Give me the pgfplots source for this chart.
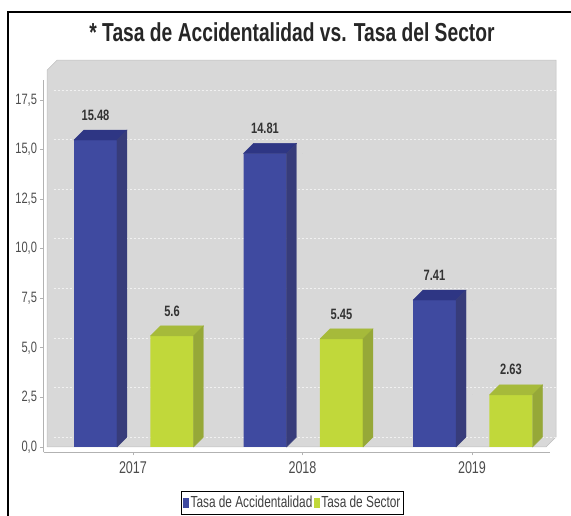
\documentclass[border=0pt]{standalone}
\usepackage{fontspec}
\setmainfont[FakeStretch=0.74]{Liberation Sans}
\usepackage{pgfplots}
\usepackage{pgfplotstable}
\pgfplotsset{compat=1.18}
\definecolor{bfront}{RGB}{63,74,160}
\definecolor{btop}{RGB}{46,54,132}
\definecolor{bside}{RGB}{55,60,122}
\definecolor{yfront}{RGB}{193,216,58}
\definecolor{ytop}{RGB}{166,186,58}
\definecolor{yside}{RGB}{150,168,56}
\definecolor{wall}{RGB}{216,216,216}

\pgfplotstableread{
x y lab
0 15.48 15.48
1 14.81 14.81
2 7.41 7.41
}\tasaacc
\pgfplotstableread{
x y lab
0 5.6 5.6
1 5.45 5.45
2 2.63 2.63
}\tasasec

\newcommand\bdepth{10}
\newcommand\barfaces[4]{%
  \begin{scope}[x=1pt,y=1pt]
  \pgfmathsetmacro\hh{\yv*19.83}%
  \fill[#3] ({#1-#2},0) -- ({#1+#2},0) -- ({#1+#2+\bdepth},\bdepth) -- ({#1-#2+\bdepth},\bdepth) -- cycle;
  \fill[#4] ({#1+#2},0) -- ({#1+#2+\bdepth},\bdepth) -- ({#1+#2+\bdepth},{\bdepth-\hh}) -- ({#1+#2},{-\hh}) -- cycle;
  \end{scope}}

\begin{document}
\begin{tikzpicture}
\draw[black, line width=1.6pt] (8pt,-10pt) rectangle (590pt,504pt);
\node[font=\fontsize{26}{30}\selectfont\bfseries, text=black!85] at (292pt,484pt) {* Tasa de Accidentalidad vs. Tasa del Sector};
\begin{axis}[
  set layers,
  at={(43.5pt,63.65pt)}, anchor=south west,
  x=169.5pt, y=19.83pt,
  xmin=-0.528, xmax=2.46, ymin=-0.27, ymax=18.5,
  clip=false,
  axis lines=left,
  axis line style={-, draw=gray!60, line width=0.9pt},
  tick align=outside, major tick length=3pt,
  tick style={gray!60, line width=0.8pt},
  xtick={0,1,2}, xticklabels={2017,2018,2019},
  ytick={0,2.5,5,7.5,10,12.5,15,17.5},
  y tick label style={/pgf/number format/fixed, /pgf/number format/fixed zerofill,
    /pgf/number format/precision=1, /pgf/number format/use comma,
    /pgf/number format/assume math mode=true,
    font=\fontsize{15}{17}\selectfont, text=black!70},
  x tick label style={font=\fontsize{17}{19}\selectfont, text=black!70, yshift=-3pt},
  ymajorgrids,
  major grid style={white, opacity=0.65, dash pattern=on 2pt off 2pt, line width=0.6pt, xshift=10pt, yshift=10pt},
  legend columns=2,
  legend style={at={(axis description cs:0.4916,-0.1038)}, anchor=north,
    draw=black, line width=0.8pt, font=\fontsize{16}{18}\selectfont, text=black!75,
    inner xsep=1.5pt, inner ysep=3pt, nodes={inner xsep=1.5pt},
    /tikz/every even column/.append style={column sep=0pt}},
  legend image code/.code={\fill[#1,draw=none] (0pt,-5pt) rectangle (6pt,5pt);},
  nodes near coords style={font=\fontsize{15}{17}\selectfont\bfseries, text=black!80, anchor=center, yshift=25pt},
]
\begin{pgfonlayer}{axis background}
\fill[wall, draw=black!25, line width=0.5pt] (axis cs:-0.507,0) -- (axis cs:-0.507,19.0) -- ([shift={(10pt,10pt)}]axis cs:-0.507,19.0) -- ([shift={(10pt,10pt)}]axis cs:2.437,19.0) -- ([shift={(10pt,10pt)}]axis cs:2.437,0) -- (axis cs:2.437,0) -- cycle;
\end{pgfonlayer}

\addplot[ybar, bar width=0.254, bar shift=-0.221, fill=bfront, draw=none,
  nodes near coords, point meta=explicit symbolic,
  every node near coord/.append style={xshift=-37.5pt}]
  table[x=x, y=y, meta=lab] {\tasaacc};
\addlegendentry{Tasa de Accidentalidad}
\addplot[ybar, bar width=0.254, bar shift=0.230, fill=yfront, draw=none,
  nodes near coords, point meta=explicit symbolic,
  every node near coord/.append style={xshift=39pt}]
  table[x=x, y=y, meta=lab] {\tasasec};
\addlegendentry{Tasa de Sector}

\addplot[forget plot, only marks, mark=*, mark size=0pt, mark options={draw=none,fill=none},
  scatter, visualization depends on={rawy \as \yv},
  scatter/@pre marker code/.code={\barfaces{-37.5}{21.5}{btop}{bside}},
  scatter/@post marker code/.code={}]
  table[x=x, y=y] {\tasaacc};
\addplot[forget plot, only marks, mark=*, mark size=0pt, mark options={draw=none,fill=none},
  scatter, visualization depends on={rawy \as \yv},
  scatter/@pre marker code/.code={\barfaces{39}{21.5}{ytop}{yside}},
  scatter/@post marker code/.code={}]
  table[x=x, y=y] {\tasasec};
\end{axis}
\pgfresetboundingbox
\useasboundingbox (0,0) rectangle (571pt,516pt);
\end{tikzpicture}
\end{document}
